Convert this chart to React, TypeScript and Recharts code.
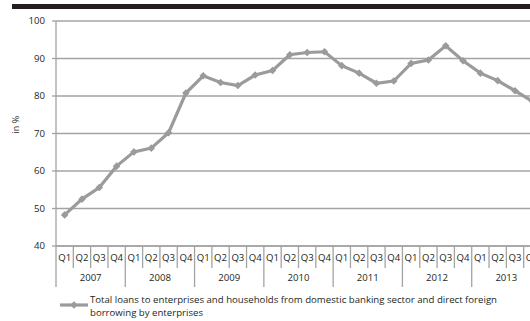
import React from 'react';
import { CartesianGrid, Line, LineChart, XAxis, YAxis } from 'recharts';

const quarters = ['Q1','Q2','Q3','Q4','Q1','Q2','Q3','Q4','Q1','Q2','Q3','Q4','Q1','Q2','Q3','Q4','Q1','Q2','Q3','Q4','Q1','Q2','Q3','Q4','Q1','Q2','Q3','Q4'];
const years = ['2007','2008','2009','2010','2011','2012','2013'];
const loans = [48.3,52.5,55.6,61.3,65.1,66.1,70.2,80.8,85.4,83.6,82.8,85.6,86.8,91.0,91.6,91.8,88.1,86.1,83.4,84.0,88.7,89.6,93.4,89.4,86.1,84.1,81.4,78.6];
const yTicks = [40,50,60,70,80,90,100];

const legendText = 'Total loans to enterprises and households from domestic banking sector and direct foreign borrowing by enterprises';

const data = quarters.map((q,i)=>({ q, idx: i, value: loans[i] }));

const FONT = 'Open Sans, sans-serif';
const INK = '#231f20';
const GRID = '#a3a3a3';
const LINE = '#9b9b9b';
const CHART_W = 560, PLOT_L = 56, PLOT_R = 19;
const BAND = (CHART_W - PLOT_L - PLOT_R) / quarters.length;

function Diamond({cx, cy, r=3.8, fill=LINE}:{cx?:number; cy?:number; r?:number; fill?:string}){
  if (cx==null || cy==null) return null;
  return <polygon points={`${cx},${cy-r} ${cx+r},${cy} ${cx},${cy+r} ${cx-r},${cy}`} fill={fill}/>;
}

function QuarterTick(props:any){
  const { x, y, index } = props;
  const isQ1 = index % 4 === 0;
  const left = x - BAND/2;
  return (
    <g>
      <line x1={left} x2={left} y1={y} y2={isQ1 ? y+41 : y+22} stroke={GRID} strokeWidth={1.3}/>
      <text x={x} y={y+14.5} textAnchor="middle" fontSize={9.6} fill={INK} fontFamily={FONT}>{quarters[index]}</text>
      {isQ1 && (
        <text x={x + BAND*1.5} y={y+35} textAnchor="middle" fontSize={9.6} fill={INK} fontFamily={FONT}>
          {years[Math.floor(index/4)]}
        </text>
      )}
    </g>
  );
}

export default function App(){
  return (
    <div style={{ position:'absolute', left:0, top:0, width:530, height:321, overflow:'hidden', background:'#fff' }}>
      <svg style={{ position:'absolute', left:0, top:0 }} width={530} height={12}>
        <rect x={12} y={4} width={520} height={5} fill={INK}/>
      </svg>
      <div style={{ position:'absolute', left:0, top:0 }}>
        <LineChart width={CHART_W} height={321} data={data} margin={{ top:21, right:PLOT_R, left:PLOT_L-40, bottom:25 }}>
          <CartesianGrid vertical={false} stroke={GRID} strokeWidth={1.3}/>
          <XAxis dataKey="idx" type="category" scale="band" interval={0} tickLine={false} tickSize={0} tickMargin={0} height={50}
            axisLine={{ stroke: GRID, strokeWidth: 1.3 }} tick={(p:any)=><QuarterTick key={p.index} {...p}/>}/>
          <YAxis domain={[40,100]} ticks={yTicks} width={40} tickSize={4} tickMargin={7}
            axisLine={{ stroke: GRID, strokeWidth: 1.3 }} tickLine={{ stroke: GRID, strokeWidth: 1.3 }}
            tick={{ fontSize: 9.6, fill: INK, fontFamily: FONT }}
            label={{ value:'in %', angle:-90, position:'insideLeft', offset:0, dx:0, style:{ fontSize:9, fill:INK, fontFamily:FONT } }}/>
          <Line dataKey="value" stroke={LINE} strokeWidth={3.2} isAnimationActive={false}
            dot={(p:any)=><Diamond key={p.index} cx={p.cx} cy={p.cy}/>} activeDot={false}/>
        </LineChart>
      </div>
      <svg style={{ position:'absolute', left:60, top:299 }} width={30} height={12}>
        <line x1={0} x2={28} y1={6} y2={6} stroke={LINE} strokeWidth={3.2}/>
        <Diamond cx={14} cy={6}/>
      </svg>
      <div style={{ position:'absolute', left:90, top:293, width:435, fontSize:9.65, lineHeight:'13px', color:INK, fontFamily:FONT }}>
        {legendText}
      </div>
    </div>
  );
}
